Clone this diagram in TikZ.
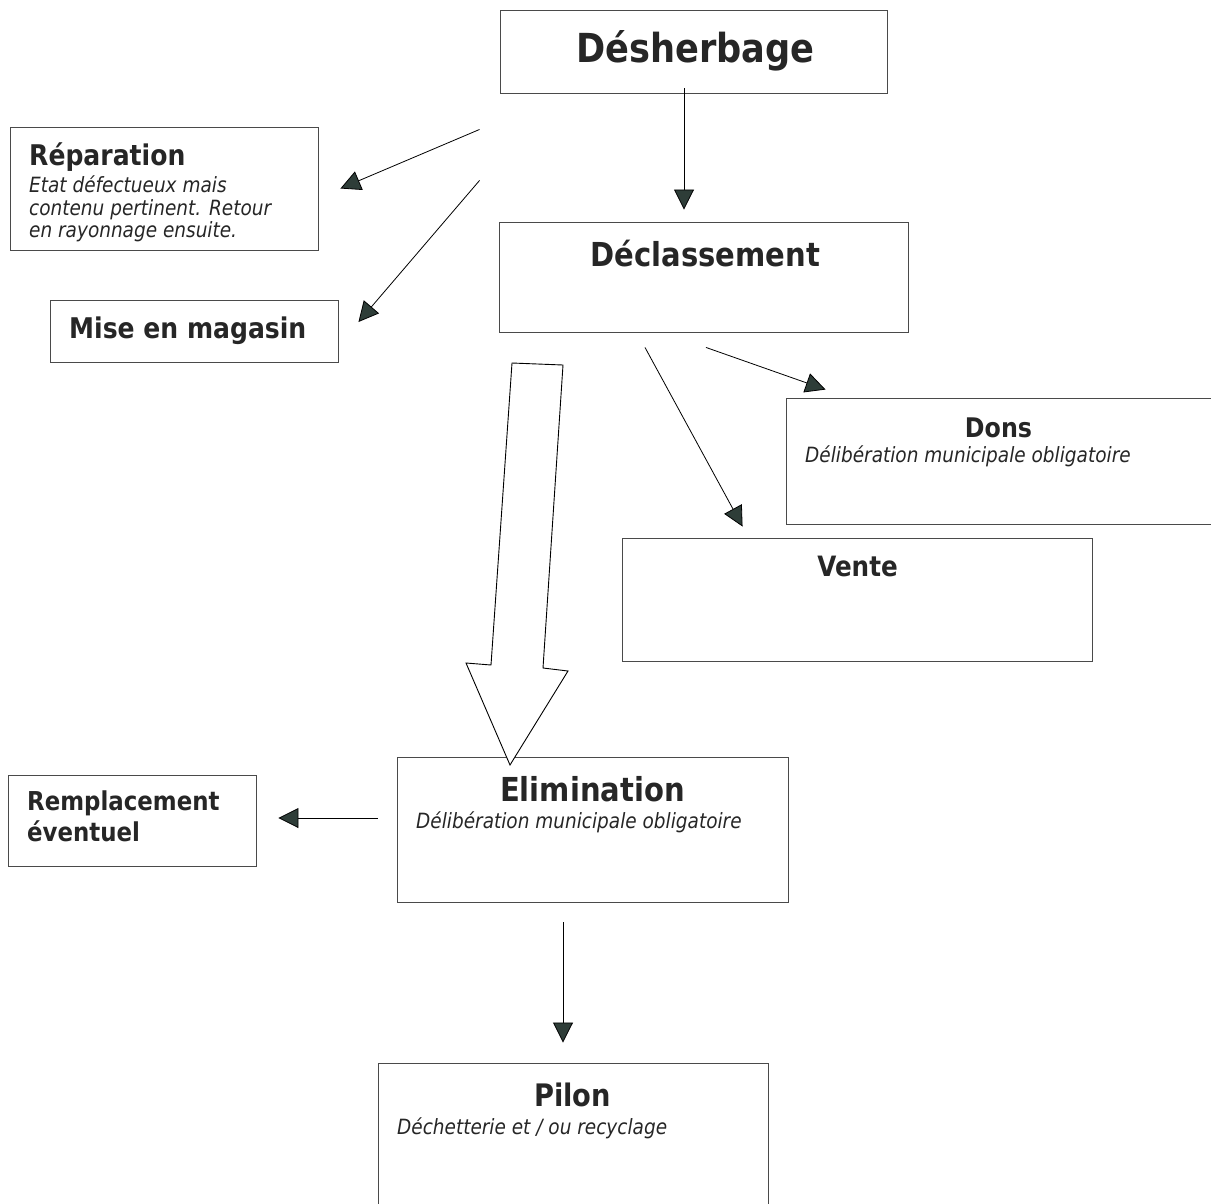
\documentclass[tikz,border=0pt]{standalone}
\usepackage{fontspec}
\setmainfont{DejaVu Sans}[FakeStretch=0.88]
\usetikzlibrary{arrows.meta}
\definecolor{pointe}{HTML}{2E3D38}
\definecolor{bord}{HTML}{4A4A4A}
\tikzset{
  boite/.style={draw=bord, line width=0.9pt, rectangle, inner sep=0pt},
  titre/.style={font=\bfseries\fontsize{#1}{#1}\selectfont, inner sep=0pt, text=black!85},
  note/.style={font=\itshape\fontsize{21}{23}\selectfont, inner sep=0pt, text=black!85},
  fleche/.style={-{Triangle[length=20pt,width=20pt,fill=pointe]}, line width=0.8pt}
}
\begin{document}
\begin{tikzpicture}[x=1pt, y=-1pt]
\useasboundingbox (0,0) rectangle (1211,1203);
\clip (0,0) rectangle (1211,1203);
\node[boite, minimum width=387pt, minimum height=83pt] (desh) at (693.5,51.5) {};
\node[boite, minimum width=409pt, minimum height=110pt] (decl) at (703.5,277) {};
\node[boite, minimum width=308pt, minimum height=123pt] (repa) at (164,188.5) {};
\node[boite, minimum width=288pt, minimum height=62pt] (mise) at (194,331) {};
\node[boite, minimum width=454pt, minimum height=126pt] (dons) at (1013,461) {};
\node[boite, minimum width=470pt, minimum height=123pt] (vente) at (857,599.5) {};
\node[boite, minimum width=391pt, minimum height=145pt] (elim) at (592.5,829.5) {};
\node[boite, minimum width=248pt, minimum height=91pt] (remp) at (132,820.5) {};
\node[boite, minimum width=390pt, minimum height=167pt] (pilon) at (573,1146.5) {};
\node[titre=40, anchor=base] (deshT) at (695.5,62) {Désherbage};
\node[titre=33, anchor=base] (declT) at (705.5,266.5) {Déclassement};
\node[titre=28.5, anchor=base west] (repaT) at (29,165.5) {Réparation};
\foreach \ligne/\y [count=\i] in {{Etat défectueux mais}/192, {contenu pertinent. Retour}/215, {en rayonnage ensuite.}/237}
  \node[note, anchor=base west] (repaN\i) at (29,\y) {\ligne};
\node[titre=28.5, anchor=base west] (miseT) at (69,338) {Mise en magasin};
\node[titre=27, anchor=base] (donsT) at (998.5,437) {Dons};
\node[note, anchor=base west] (donsN) at (805,462.5) {Délibération municipale obligatoire};
\node[titre=28, anchor=base] (venteT) at (857.5,576.5) {Vente};
\node[titre=33, anchor=base] (elimT) at (592.5,801.5) {Elimination};
\node[note, anchor=base west] (elimN) at (416,828) {Délibération municipale obligatoire};
\node[titre=26, anchor=base west] (rempT) at (27,810) {Remplacement};
\node[titre=26, anchor=base west] (rempU) at (27,841.5) {éventuel};
\node[titre=31, anchor=base] (pilonT) at (572.5,1106.5) {Pilon};
\node[note, anchor=base west] (pilonN) at (397,1134.5) {Déchetterie et / ou recyclage};
\draw[fleche] ([xshift=-9.5pt, yshift=5pt]desh.south) -- ([xshift=-19.5pt, yshift=12pt]decl.north);
\draw[fleche] ([xshift=-20pt, yshift=-36pt]desh.south west) -- ([xshift=22pt]repa.east);
\draw[fleche] ([xshift=-20pt, yshift=-87pt]desh.south west) -- ([xshift=20pt, yshift=9pt]mise.east);
\draw[fleche] ([xshift=2.5pt, yshift=-15pt]decl.south) -- ([xshift=40pt, yshift=8pt]dons.north west);
\draw[fleche] ([xshift=-58.5pt, yshift=-15pt]decl.south) -- ([xshift=121pt, yshift=11pt]vente.north west);
\draw[fleche] ([xshift=-19pt, yshift=11.5pt]elim.west) -- ([xshift=22pt, yshift=2.5pt]remp.east);
\draw[fleche] ([xshift=-29.5pt, yshift=-20pt]elim.south) -- ([xshift=-10pt, yshift=20pt]pilon.north);
\draw[line width=0.9pt, fill=white] (512,363) -- (563,365) -- (543,668) -- (568,671) -- (510,765) -- (466,663) -- (491,665) -- cycle;
\end{tikzpicture}
\end{document}
